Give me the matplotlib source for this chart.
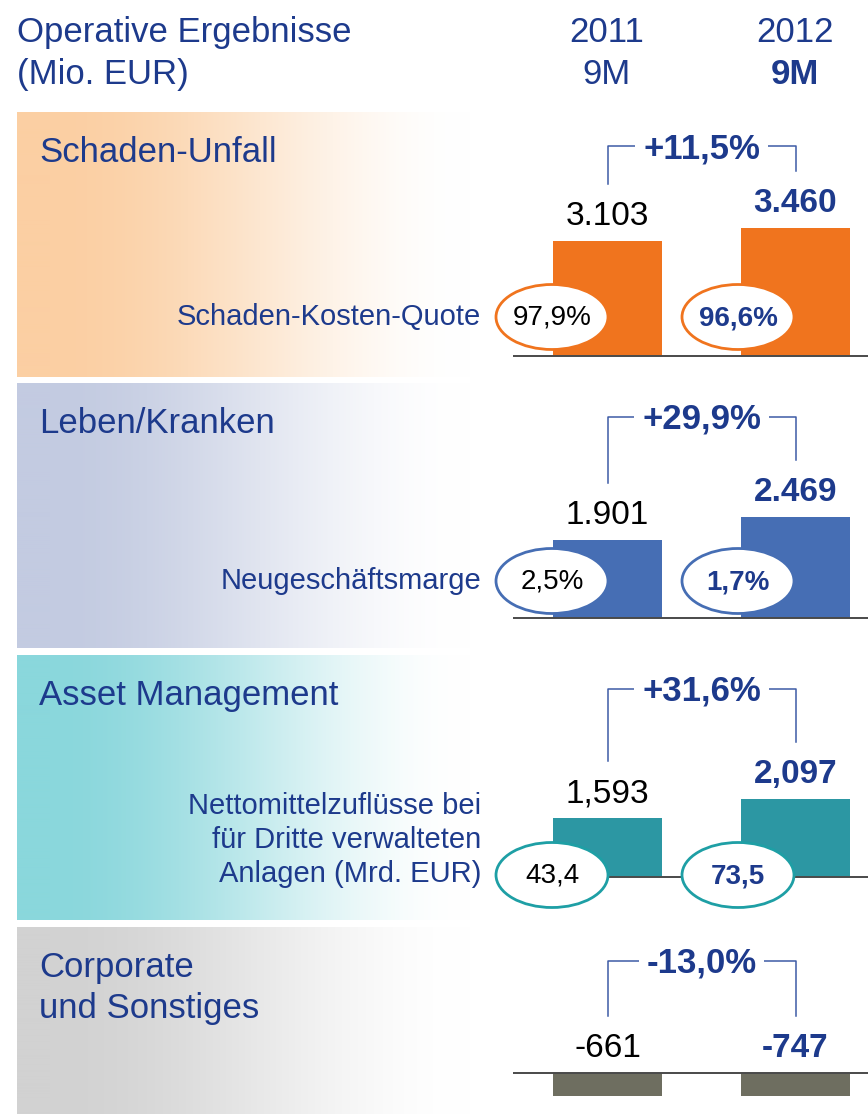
import numpy as np
import matplotlib.pyplot as plt
from matplotlib.colors import to_rgb
from matplotlib.patches import Ellipse

plt.rcParams['font.family'] = ['Liberation Sans', 'DejaVu Sans']

# data
segments = ['Schaden-Unfall', 'Leben/Kranken', 'Asset Management', 'Corporate\nund Sonstiges']
values_2011 = [3103, 1901, 1593, -661]
values_2012 = [3460, 2469, 2097, -747]
labels_2011 = ['3.103', '1.901', '1,593', '-661']
labels_2012 = ['3.460', '2.469', '2,097', '-747']
changes = ['+11,5%', '+29,9%', '+31,6%', '-13,0%']
kpi_names = ['Schaden-Kosten-Quote', 'Neugeschäftsmarge',
             'Nettomittelzuflüsse bei\nfür Dritte verwalteten\nAnlagen (Mrd. EUR)', None]
kpi_2011 = ['97,9%', '2,5%', '43,4', None]
kpi_2012 = ['96,6%', '1,7%', '73,5', None]
years = ['2011', '2012']
periods = ['9M', '9M']

# layout (pixels)
W, H = 868, 1114
panel_top = [112, 383, 655, 927]
panel_bottom = [377, 648, 920, 1114]
baseline = [356, 618, 877, 1073]
bar_clip_bottom = [377, 648, 920, 1096]
kpi_y = [317, 581, 840]
ring_y = [317, 581, 875]
kpi_size = [21, 21, 21]
px_per_unit = [0.037, 0.041, 0.037, 0.037]
panel_colors = ['#FBCFA3', '#C3CBE1', '#8AD7DC', '#D2D2D2']
bar_colors = ['#F0741E', '#466EB4', '#2C97A3', '#6E6E60']
ring_colors = ['#F0741E', '#466EB4', '#1E9FA5', None]
navy = '#1D3A8C'
line_blue = '#3D5BA6'

fig = plt.figure(figsize=(W / 100, H / 100), dpi=100)

# background panels with horizontal fade
bg = fig.add_axes([0, 0, 1, 1])
bg.set_xlim(0, W)
bg.set_ylim(H, 0)
bg.axis('off')
xs = np.arange(17, W)
t = np.clip((xs - 50) / 420.0, 0, 1)
t = t * t * (3 - 2 * t)
for i in range(4):
    c = np.array(to_rgb(panel_colors[i]))
    img = c[None, :] * (1 - t[:, None]) + t[:, None]
    bg.imshow(img[None, :, :], extent=(17, W, panel_bottom[i], panel_top[i]),
              aspect='auto', interpolation='bilinear')

# header
bg.text(17, 42, 'Operative Ergebnisse', fontsize=25, color=navy, va='baseline')
bg.text(17, 84, '(Mio. EUR)', fontsize=25, color=navy, va='baseline')
for j, xc in enumerate([607, 795]):
    bg.text(xc, 42, years[j], fontsize=25, color=navy, ha='center', va='baseline')
    bg.text(xc, 84, periods[j], fontsize=25, color=navy, ha='center', va='baseline',
            fontweight='bold' if j == 1 else 'normal')

ov = fig.add_axes([0, 0, 1, 1], zorder=5)
ov.set_facecolor('none')
ov.set_xlim(0, W)
ov.set_ylim(H, 0)
ov.axis('off')

x0, step, bw = 607.5, 188.0, 109.0
left_px, right_px = 513, W
for i in range(4):
    top = panel_top[i] + 33
    bot = bar_clip_bottom[i]
    s = px_per_unit[i]
    ax = fig.add_axes([left_px / W, 1 - bot / H, (right_px - left_px) / W, (bot - top) / H], zorder=3)
    ax.set_facecolor('none')
    ax.set_xlim((left_px - x0) / step, (right_px - x0) / step)
    ax.set_ylim(-(bot - baseline[i]) / s, (baseline[i] - top) / s)
    ax.axis('off')
    vals = [values_2011[i], values_2012[i]]
    ax.bar([0, 1], vals, width=bw / step, color=bar_colors[i], zorder=2)
    ax.axhline(0, color='#4A4A4A', lw=1.4, zorder=3)
    labs = [labels_2011[i], labels_2012[i]]
    for j in range(2):
        ax.annotate(labs[j], (j, max(vals[j], 0)), xytext=(0, 11.5), textcoords='offset points',
                    ha='center', va='baseline', fontsize=24,
                    color='black' if j == 0 else navy,
                    fontweight='normal' if j == 0 else 'bold', annotation_clip=False)

    # change bracket
    pts = [ax.transData.transform((j, max(vals[j], 0))) for j in range(2)]
    bx = [p[0] for p in pts]
    by = [H - p[1] - 57 for p in pts]
    ytop = panel_top[i] + 34
    ov.plot([bx[0], bx[0], bx[1], bx[1]], [by[0], ytop, ytop, by[1]], color=line_blue, lw=1.1)
    ov.text((bx[0] + bx[1]) / 2, ytop + 12, changes[i], fontsize=25, fontweight='bold',
            color=navy, ha='center', va='baseline',
            bbox=dict(boxstyle='square,pad=0.22', fc='white', ec='none'))

    # segment title, line by line
    for k, line in enumerate(segments[i].split('\n')):
        ov.text(39, panel_top[i] + 50 + 41 * k, line, fontsize=25, color=navy, va='baseline')

    # KPI ellipses
    if kpi_names[i] is not None:
        ey = ring_y[i]
        for j, (cx, txt) in enumerate([(552, kpi_2011[i]), (738, kpi_2012[i])]):
            ov.add_patch(Ellipse((cx, ey), 112, 65, fc='white', ec=ring_colors[i], lw=2))
            ov.text(cx, ey + 1, txt, fontsize=20, ha='center', va='center',
                    color='black' if j == 0 else navy,
                    fontweight='normal' if j == 0 else 'bold')
        ov.text(481, kpi_y[i], kpi_names[i], fontsize=kpi_size[i], color=navy,
                ha='right', va='center', multialignment='right', linespacing=1.25)

fig.savefig('out.png', dpi=100)
